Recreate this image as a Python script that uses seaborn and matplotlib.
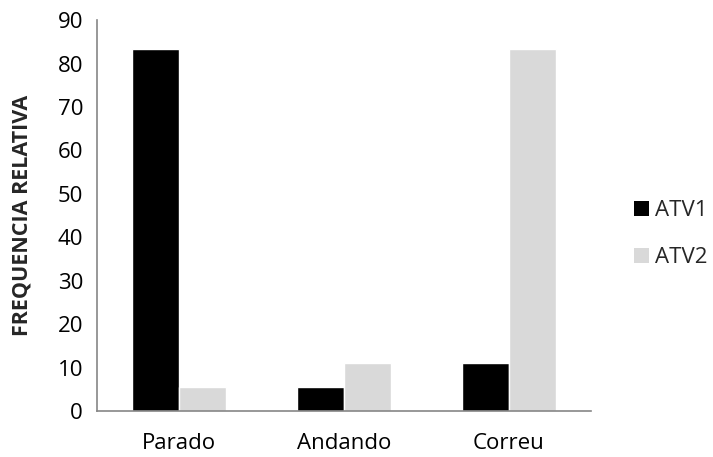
import matplotlib
matplotlib.use("Agg")
import matplotlib.pyplot as plt
from matplotlib.patches import Patch
import seaborn as sns
import pandas as pd

categories = ["Parado", "Andando", "Correu"]
series_names = ["ATV1", "ATV2"]
atv1 = [83.3, 5.6, 11.1]
atv2 = [5.6, 11.1, 83.3]
y_ticks = [0, 10, 20, 30, 40, 50, 60, 70, 80, 90]
colors = ["#000000", "#d9d9d9"]

df = pd.DataFrame({
    "categoria": categories * 2,
    "serie": [series_names[0]] * 3 + [series_names[1]] * 3,
    "valor": atv1 + atv2,
})

sns.set_theme(style="white")
plt.rcParams["font.family"] = ["Open Sans", "DejaVu Sans"]

fig = plt.figure(figsize=(7.13, 4.57), dpi=100)
ax = fig.add_axes([0.136, 0.1007, 0.693, 0.855])

sns.barplot(data=df, x="categoria", y="valor", hue="serie",
            palette=colors, width=0.57, gap=0,
            saturation=1, errorbar=None, ax=ax, legend=False)

axis_grey = "#868686"
ax.set_ylim(0, 90)
ax.set_xlim(-0.5, 2.5)
ax.set_yticks(y_ticks)
ax.set_yticklabels([str(v) for v in y_ticks], fontsize=16)
ax.set_xticks(range(3))
ax.set_xticklabels(categories, fontsize=16)
ax.set_xticks([-0.5, 0.5, 1.5, 2.5], minor=True)
ax.tick_params(axis="x", which="major", length=0, pad=16)
ax.tick_params(axis="x", which="minor", length=6, width=1.2, direction="out")
ax.tick_params(axis="y", length=6, width=1.2, direction="out", pad=4)
ax.tick_params(axis="both", which="both", color=axis_grey, labelcolor="black")

for side in ["top", "right"]:
    ax.spines[side].set_visible(False)
for side in ["left", "bottom"]:
    ax.spines[side].set_color(axis_grey)
    ax.spines[side].set_linewidth(1.2)

ax.set_xlabel("")
ax.set_ylabel("FREQUENCIA RELATIVA", fontsize=15.5, fontweight="bold")
ax.yaxis.set_label_coords(-0.13, 0.5)

handles = [Patch(facecolor=c, edgecolor="none") for c in colors]
ax.legend(handles, series_names, loc="center left",
          bbox_to_anchor=(1.087, 0.453), frameon=False, fontsize=16,
          borderpad=0, borderaxespad=0,
          handlelength=0.65, handleheight=0.65, handletextpad=0.3,
          labelspacing=1.17)

fig.savefig("out.png", dpi=100)
